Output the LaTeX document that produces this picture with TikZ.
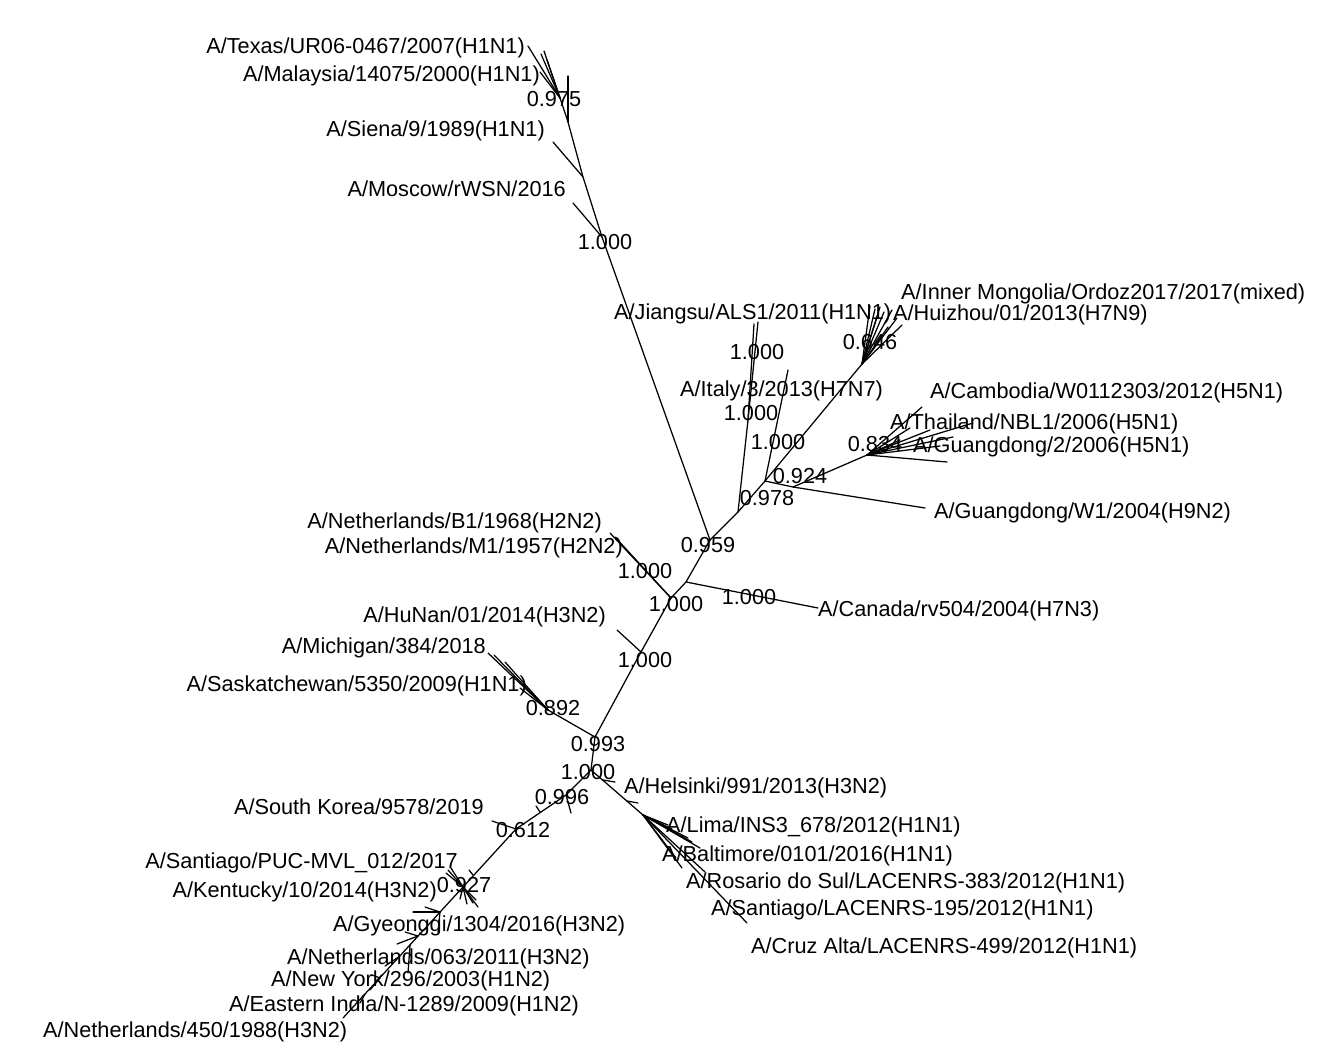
\documentclass[tikz,border=0pt]{standalone}
\usepackage{fontspec}
\setmainfont{Liberation Sans}
\newcommand\treefont{\fontsize{21.7}{25}\selectfont}
\tikzset{
  br/.style={line width=1.25pt, line cap=round},
  leafl/.style={inner sep=0pt, font=\treefont, anchor=base west},
  leafr/.style={inner sep=0pt, font=\treefont, anchor=base east},
  boot/.style={inner sep=0pt, font=\treefont}
}
\begin{document}
\begin{tikzpicture}[x=1pt,y=-1pt]
\fill[white] (0,0) rectangle (1330,1062);
\useasboundingbox (0,0) rectangle (1330,1062);

% ---------- coordinates: internal nodes ----------
\coordinate (c959) at (710,540);
\coordinate (cMos) at (602,237);
\coordinate (cSie) at (583,177);
\coordinate (cTop) at (568,122);
\coordinate (c975) at (560,98);
\coordinate (c978) at (738,512);
\coordinate (cJ) at (748,420);
\coordinate (c924) at (765,481);
\coordinate (cHH) at (793,487);
\coordinate (cH5) at (867,455);
\coordinate (cH7) at (862,364);
\coordinate (cA) at (686,582);
\coordinate (cH2) at (671,598);
\coordinate (cHu) at (641,652);
\coordinate (c993) at (595,737);
\coordinate (cMi) at (548,710);
\coordinate (cB) at (591,770);
\coordinate (cLi) at (643,815);
\coordinate (cLL) at (566,795);
\coordinate (cSK) at (516,829);
\coordinate (cPUC) at (463,887);

% ---------- tips ----------
\coordinate (tMos) at (573,203);
\coordinate (tSie) at (553,142);
\coordinate (tV) at (568,76);
\coordinate (tTex) at (528,46);
\coordinate (tJ1) at (754,324);
\coordinate (tJ2) at (758,322);
\coordinate (tIt) at (788,370);
\coordinate (tH9) at (925,508);
\coordinate (tCan) at (818,608);
\coordinate (tH2a) at (610,533);
\coordinate (tH2b) at (615,537);
\coordinate (tHu) at (617,630);
\coordinate (tCruz) at (747,923);
\coordinate (tSK) at (492,821);
\coordinate (tN450) at (343,1018);

% ---------- backbone ----------
\draw[br] (c959) -- (cMos) -- (cSie) -- (cTop) -- (c975);
\draw[br] (cMos) -- (tMos);
\draw[br] (cSie) -- (tSie);
\draw[br] (cTop) -- (tV);
\draw[br] (c975) -- (tTex);
\foreach \x/\y [count=\i] in {541/54, 544/51, 540/72, 547/60} {
  \coordinate (tt\i) at (\x,\y);
  \draw[br] (c975) -- (tt\i);
}

\draw[br] (c959) -- (c978) -- (c924) -- (cH7);
\draw[br] (c978) -- (cJ) -- (tJ1);
\draw[br] (cJ) -- (tJ2);
\draw[br] (c924) -- (tIt);
\draw[br] (c924) -- (cHH) -- (tH9);
\draw[br] (cHH) -- (cH5);
\foreach \x/\y [count=\i] in {922/407, 910/428, 930/430, 973/423, 953/437, 947/462, 900/440, 940/446} {
  \coordinate (h5t\i) at (\x,\y);
  \draw[br] (cH5) -- (h5t\i);
}
\foreach \x/\y [count=\i] in {875/309, 880/307, 884/312, 892/310, 902/325, 888/327, 870/306, 897/318, 878/314} {
  \coordinate (h7t\i) at (\x,\y);
  \draw[br] (cH7) -- (h7t\i);
}

\draw[br] (c959) -- (cA) -- (tCan);
\draw[br] (cA) -- (cH2) -- (tH2a);
\draw[br] (cH2) -- (tH2b);
\draw[br] (cH2) -- (cHu) -- (tHu);
\draw[br] (cHu) -- (c993) -- (cMi);
\foreach \x/\y [count=\i] in {488/653, 494/655, 505/662, 530/692, 520/688} {
  \coordinate (mit\i) at (\x,\y);
  \draw[br] (cMi) -- (mit\i);
}
\draw[br] (c993) -- (cB);

% lower right clade
\draw[br] (cB) -- (cLi) -- (tCruz);
\coordinate (hA) at (603,780);
\coordinate (hB) at (615,782);
\draw[br] (hA) -- (hB);
\coordinate (hC) at (627,801);
\coordinate (hD) at (638,803);
\draw[br] (hC) -- (hD);
\foreach \x/\y [count=\i] in {668/825, 688/838, 682/868, 700/848, 676/858, 692/842, 672/829, 705/872} {
  \coordinate (lit\i) at (\x,\y);
  \draw[br] (cLi) -- (lit\i);
}

% lower left clade
\draw[br] (cB) -- (cLL) -- (cSK) -- (cPUC) -- (tN450);
\coordinate (kA) at (571,813);
\draw[br] (cLL) -- (kA);
\coordinate (kB) at (540,812);
\coordinate (kC) at (536,806);
\draw[br] (kB) -- (kC);
\draw[br] (cSK) -- (tSK);
\coordinate (kD) at (473,875);
\coordinate (kE) at (469,870);
\draw[br] (kD) -- (kE);
\foreach \x/\y [count=\i] in {448/870, 451/868, 446/873, 478/907, 473/903, 467/904, 460/899, 476/900} {
  \coordinate (pt\i) at (\x,\y);
  \draw[br] (cPUC) -- (pt\i);
}
\coordinate (s1) at (440,912);
\coordinate (s2) at (418,936);
\coordinate (s3) at (410,945);
\coordinate (s4) at (400,956);
\coordinate (s5) at (380,978);
\coordinate (s6) at (365,994);
\foreach \s/\x/\y [count=\i] in {s1/413/912, s1/438/932, s1/425/907, s2/397/944, s2/405/932, s3/408/973, s4/385/966, s5/370/990, s5/372/975, s6/360/1003} {
  \coordinate (st\i) at (\x,\y);
  \draw[br] (\s) -- (st\i);
}

% ---------- leaf labels ----------
\node[leafr] (lTex) at (525,54) {A/Texas/UR06-0467/2007(H1N1)};
\node[leafr] (lMal) at (540,82) {A/Malaysia/14075/2000(H1N1)};
\node[leafr] (lSie) at (545,136) {A/Siena/9/1989(H1N1)};
\node[leafr] (lMos) at (566,196) {A/Moscow/rWSN/2016};
\node[leafl] (lInM) at (901,299) {A/Inner Mongolia/Ordoz2017/2017(mixed)};
\node[leafl] (lHui) at (893,320) {A/Huizhou/01/2013(H7N9)};
\node[leafl] (lJia) at (614,319) {A/Jiangsu/ALS1/2011(H1N1)};
\node[leafl] (lIta) at (680,396) {A/Italy/3/2013(H7N7)};
\node[leafl] (lCam) at (930,398) {A/Cambodia/W0112303/2012(H5N1)};
\node[leafl] (lTha) at (890,429) {A/Thailand/NBL1/2006(H5N1)};
\node[leafl] (lGu2) at (913,452) {A/Guangdong/2/2006(H5N1)};
\node[leafl] (lGW1) at (934,518) {A/Guangdong/W1/2004(H9N2)};
\node[leafr] (lNB1) at (602,528) {A/Netherlands/B1/1968(H2N2)};
\node[leafr] (lNM1) at (623,553) {A/Netherlands/M1/1957(H2N2)};
\node[leafl] (lCan) at (818,616) {A/Canada/rv504/2004(H7N3)};
\node[leafr] (lHuN) at (606,622) {A/HuNan/01/2014(H3N2)};
\node[leafr] (lMic) at (486,653) {A/Michigan/384/2018};
\node[leafr] (lSas) at (527,691) {A/Saskatchewan/5350/2009(H1N1)};
\node[leafl] (lHel) at (624,793) {A/Helsinki/991/2013(H3N2)};
\node[leafr] (lSK) at (484,814) {A/South Korea/9578/2019};
\node[leafl] (lLim) at (666,832) {A/Lima/INS3\_678/2012(H1N1)};
\node[leafl] (lBal) at (662,861) {A/Baltimore/0101/2016(H1N1)};
\node[leafl] (lRos) at (686,888) {A/Rosario do Sul/LACENRS-383/2012(H1N1)};
\node[leafl] (lSan) at (711,915) {A/Santiago/LACENRS-195/2012(H1N1)};
\node[leafl] (lCru) at (751,953) {A/Cruz Alta/LACENRS-499/2012(H1N1)};
\node[leafr] (lPUC) at (458,868) {A/Santiago/PUC-MVL\_012/2017};
\node[leafr] (lKen) at (437,897) {A/Kentucky/10/2014(H3N2)};
\node[leafl] (lGye) at (333,931) {A/Gyeonggi/1304/2016(H3N2)};
\node[leafl] (lN63) at (287,964) {A/Netherlands/063/2011(H3N2)};
\node[leafl] (lNY) at (271,986) {A/New York/296/2003(H1N2)};
\node[leafl] (lEI) at (229,1011) {A/Eastern India/N-1289/2009(H1N2)};
\node[leafl] (lN450) at (43,1037) {A/Netherlands/450/1988(H3N2)};

% ---------- support values ----------
\node[boot] (b01) at (554,99) {0.975};
\node[boot] (b02) at (605,242) {1.000};
\node[boot] (b03) at (757,352) {1.000};
\node[boot] (b04) at (870,342) {0.646};
\node[boot] (b05) at (751,413) {1.000};
\node[boot] (b06) at (778,442) {1.000};
\node[boot] (b07) at (875,444) {0.834};
\node[boot] (b08) at (800,476) {0.924};
\node[boot] (b09) at (767,498) {0.978};
\node[boot] (b10) at (708,545) {0.959};
\node[boot] (b11) at (645,571) {1.000};
\node[boot] (b12) at (676,604) {1.000};
\node[boot] (b13) at (749,597) {1.000};
\node[boot] (b14) at (645,660) {1.000};
\node[boot] (b15) at (553,708) {0.892};
\node[boot] (b16) at (598,744) {0.993};
\node[boot] (b17) at (588,772) {1.000};
\node[boot] (b18) at (562,797) {0.996};
\node[boot] (b19) at (523,830) {0.612};
\node[boot] (b20) at (464,885) {0.927};
\end{tikzpicture}
\end{document}
